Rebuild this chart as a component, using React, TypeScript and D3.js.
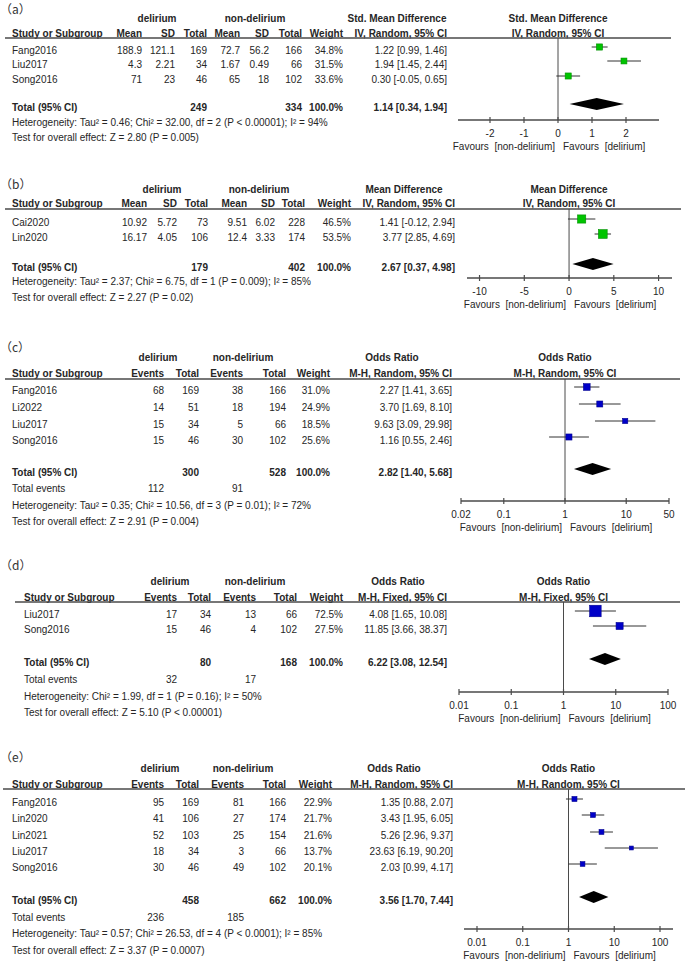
import * as d3 from "d3";
import React from "react";

const FONT = "'Liberation Sans', Arial, sans-serif";
const INK = "#262626";
const LINE = "#4a4a4a";

// (a) Std. mean difference
const aStudies = ["Fang2016", "Liu2017", "Song2016"];
const aMeanD = [188.9, 4.3, 71];
const aSdD = [121.1, 2.21, 23];
const aTotalD = [169, 34, 46];
const aMeanN = [72.7, 1.67, 65];
const aSdN = [56.2, 0.49, 18];
const aTotalN = [166, 66, 102];
const aWeight = [34.8, 31.5, 33.6];
const aEst = [1.22, 1.94, 0.3];
const aLow = [0.99, 1.45, -0.05];
const aHigh = [1.46, 2.44, 0.65];
const aPooled = [1.14, 0.34, 1.94];
const aSums = [249, 334];
const aTicks = [-2, -1, 0, 1, 2];

// (b) Mean difference
const bStudies = ["Cai2020", "Lin2020"];
const bMeanD = [10.92, 16.17];
const bSdD = [5.72, 4.05];
const bTotalD = [73, 106];
const bMeanN = [9.51, 12.4];
const bSdN = [6.02, 3.33];
const bTotalN = [228, 174];
const bWeight = [46.5, 53.5];
const bEst = [1.41, 3.77];
const bLow = [-0.12, 2.85];
const bHigh = [2.94, 4.69];
const bPooled = [2.67, 0.37, 4.98];
const bSums = [179, 402];
const bTicks = [-10, -5, 0, 5, 10];

// (c) Odds ratio, random
const cStudies = ["Fang2016", "Li2022", "Liu2017", "Song2016"];
const cEventsD = [68, 14, 15, 15];
const cTotalD = [169, 51, 34, 46];
const cEventsN = [38, 18, 5, 30];
const cTotalN = [166, 194, 66, 102];
const cWeight = [31.0, 24.9, 18.5, 25.6];
const cEst = [2.27, 3.7, 9.63, 1.16];
const cLow = [1.41, 1.69, 3.09, 0.55];
const cHigh = [3.65, 8.1, 29.98, 2.46];
const cPooled = [2.82, 1.4, 5.68];
const cSums = [300, 528];
const cEvents = [112, 91];
const cTicks = [0.02, 0.1, 1, 10, 50];

// (d) Odds ratio, fixed
const dStudies = ["Liu2017", "Song2016"];
const dEventsD = [17, 15];
const dTotalD = [34, 46];
const dEventsN = [13, 4];
const dTotalN = [66, 102];
const dWeight = [72.5, 27.5];
const dEst = [4.08, 11.85];
const dLow = [1.65, 3.66];
const dHigh = [10.08, 38.37];
const dPooled = [6.22, 3.08, 12.54];
const dSums = [80, 168];
const dEvents = [32, 17];
const dTicks = [0.01, 0.1, 1, 10, 100];

// (e) Odds ratio, random
const eStudies = ["Fang2016", "Lin2020", "Lin2021", "Liu2017", "Song2016"];
const eEventsD = [95, 41, 52, 18, 30];
const eTotalD = [169, 106, 103, 34, 46];
const eEventsN = [81, 27, 25, 3, 49];
const eTotalN = [166, 174, 154, 66, 102];
const eWeight = [22.9, 21.7, 21.6, 13.7, 20.1];
const eEst = [1.35, 3.43, 5.26, 23.63, 2.03];
const eLow = [0.88, 1.95, 2.96, 6.19, 0.99];
const eHigh = [2.07, 6.05, 9.37, 90.2, 4.17];
const ePooled = [3.56, 1.7, 7.44];
const eSums = [458, 662];
const eEvents = [236, 185];
const eTicks = [0.01, 0.1, 1, 10, 100];

const ci = (e: number, l: number, h: number) =>
  `${e.toFixed(2)} [${l.toFixed(2)}, ${h.toFixed(2)}]`;

type PanelProps = {
  label: string;
  studies: string[];
  cols: number[][];
  colX: number[];
  colHeads: string[];
  groupX: [number, number];
  sumCols: [number, number];
  sums: number[];
  events?: number[];
  weight: number[];
  weightX: number;
  est: number[];
  low: number[];
  high: number[];
  pooled: number[];
  ciX: number;
  ciHead1: string;
  ciHead1X: number;
  ciHead2: string;
  hetero: string;
  test: string;
  scale: any;
  nullValue: number;
  axisExtent: [number, number];
  ticks: number[];
  color: string;
  stroke: string;
  sizeK: number;
  leftX: number;
  lineX: [number, number];
  y: {
    label: number;
    h1: number;
    h2: number;
    line: number;
    rows: number[];
    total: number;
    events?: number;
    hetero: number;
    test: number;
    axis: number;
  };
};

const T = (props: any) => (
  <text
    fontFamily={FONT}
    fontSize={10}
    fill={INK}
    dy="0.35em"
    style={{ whiteSpace: "pre" }}
    {...props}
  />
);

const Panel = (p: PanelProps) => {
  const x = p.scale;
  const zero = x(p.nullValue);
  const size = d3.scaleSqrt().domain([0, 100]).range([0, p.sizeK * 10]);
  const y = p.y;
  const dY = y.total - 3;
  const [pe, pl, ph] = p.pooled;

  return (
    <g>
      <text
        x={0}
        y={y.label}
        dy="0.38em"
        fontFamily="'Noto Sans CJK SC', sans-serif"
        fontSize={12}
        fill="#333"
      >
        {`（${p.label}）`}
      </text>

      {/* header row 1 */}
      <T x={p.groupX[0]} y={y.h1} textAnchor="middle" fontWeight="bold">
        delirium
      </T>
      <T x={p.groupX[1]} y={y.h1} textAnchor="middle" fontWeight="bold">
        non-delirium
      </T>
      <T x={p.ciHead1X} y={y.h1} textAnchor="middle" fontWeight="bold">
        {p.ciHead1}
      </T>
      <T x={zero} y={y.h1} textAnchor="middle" fontWeight="bold">
        {p.ciHead1}
      </T>

      {/* header row 2 */}
      <T x={p.leftX} y={y.h2} fontWeight="bold">
        Study or Subgroup
      </T>
      {p.colHeads.map((h, i) => (
        <T key={i} x={p.colX[i]} y={y.h2} textAnchor="end" fontWeight="bold">
          {h}
        </T>
      ))}
      <T x={p.weightX} y={y.h2} textAnchor="end" fontWeight="bold">
        Weight
      </T>
      <T x={p.ciX} y={y.h2} textAnchor="end" fontWeight="bold">
        {p.ciHead2}
      </T>
      <T x={zero} y={y.h2} textAnchor="middle" fontWeight="bold">
        {p.ciHead2}
      </T>
      <line
        x1={p.lineX[0]}
        x2={p.lineX[1]}
        y1={y.line}
        y2={y.line}
        stroke={LINE}
        strokeWidth={1.3}
      />

      {/* study rows */}
      {p.studies.map((s, i) => (
        <g key={s}>
          <T x={p.leftX} y={y.rows[i]}>
            {s}
          </T>
          {p.cols.map((c, j) => (
            <T key={j} x={p.colX[j]} y={y.rows[i]} textAnchor="end">
              {String(c[i])}
            </T>
          ))}
          <T x={p.weightX} y={y.rows[i]} textAnchor="end">
            {`${p.weight[i].toFixed(1)}%`}
          </T>
          <T x={p.ciX} y={y.rows[i]} textAnchor="end">
            {ci(p.est[i], p.low[i], p.high[i])}
          </T>
        </g>
      ))}

      {/* totals */}
      <T x={p.leftX} y={y.total} fontWeight="bold">
        Total (95% CI)
      </T>
      <T x={p.colX[p.sumCols[0]]} y={y.total} textAnchor="end" fontWeight="bold">
        {String(p.sums[0])}
      </T>
      <T x={p.colX[p.sumCols[1]]} y={y.total} textAnchor="end" fontWeight="bold">
        {String(p.sums[1])}
      </T>
      <T x={p.weightX} y={y.total} textAnchor="end" fontWeight="bold">
        100.0%
      </T>
      <T x={p.ciX} y={y.total} textAnchor="end" fontWeight="bold">
        {ci(pe, pl, ph)}
      </T>
      {p.events && y.events !== undefined && (
        <g>
          <T x={p.leftX} y={y.events}>
            Total events
          </T>
          <T x={p.colX[0]} y={y.events} textAnchor="end">
            {String(p.events[0])}
          </T>
          <T x={p.colX[2]} y={y.events} textAnchor="end">
            {String(p.events[1])}
          </T>
        </g>
      )}
      <T x={p.leftX} y={y.hetero}>
        {p.hetero}
      </T>
      <T x={p.leftX} y={y.test}>
        {p.test}
      </T>

      {/* forest plot */}
      <line x1={zero} x2={zero} y1={y.line} y2={y.axis} stroke={LINE} strokeWidth={1} />
      {p.studies.map((s, i) => {
        const cy = y.rows[i] - 3;
        const w = size(p.weight[i]);
        return (
          <g key={s}>
            <line
              x1={x(p.low[i])}
              x2={x(p.high[i])}
              y1={cy}
              y2={cy}
              stroke="#333"
              strokeWidth={1}
            />
            <rect
              x={x(p.est[i]) - w / 2}
              y={cy - w / 2}
              width={w}
              height={w}
              fill={p.color}
              stroke={p.stroke}
              strokeWidth={0.6}
            />
          </g>
        );
      })}
      <path
        d={`M${x(pl)},${dY} L${x(pe)},${dY - 6} L${x(ph)},${dY} L${x(pe)},${dY + 6} Z`}
        fill="#000"
      />

      {/* axis */}
      <line
        x1={p.axisExtent[0]}
        x2={p.axisExtent[1]}
        y1={y.axis}
        y2={y.axis}
        stroke={LINE}
        strokeWidth={1.3}
      />
      {p.ticks.map((t) => (
        <g key={t}>
          <line
            x1={x(t)}
            x2={x(t)}
            y1={y.axis - 3}
            y2={y.axis + 3}
            stroke={LINE}
            strokeWidth={1.2}
          />
          <T x={x(t)} y={y.axis + 13} textAnchor="middle">
            {String(t)}
          </T>
        </g>
      ))}
      <T x={zero - 3} y={y.axis + 26.5} textAnchor="end">
        {"Favours  [non-delirium]"}
      </T>
      <T x={zero + 5} y={y.axis + 26.5}>
        {"Favours  [delirium]"}
      </T>
    </g>
  );
};

const contHeads = ["Mean", "SD", "Total", "Mean", "SD", "Total"];
const binHeads = ["Events", "Total", "Events", "Total"];

export default function App() {
  const green = "#00c400";
  const greenS = "#008f00";
  const blue = "#0000c8";
  const blueS = "#000090";

  return (
    <svg
      width={685}
      height={964}
      style={{ position: "absolute", left: 0, top: 0, background: "#fff" }}
    >
      <rect width={685} height={964} fill="#fff" />
      <Panel
        label="a"
        studies={aStudies}
        cols={[aMeanD, aSdD, aTotalD, aMeanN, aSdN, aTotalN]}
        colX={[142, 175, 207, 240, 269, 302]}
        colHeads={contHeads}
        groupX={[157, 255]}
        sumCols={[2, 5]}
        sums={aSums}
        weight={aWeight}
        weightX={343}
        est={aEst}
        low={aLow}
        high={aHigh}
        pooled={aPooled}
        ciX={447}
        ciHead1="Std. Mean Difference"
        ciHead1X={397}
        ciHead2="IV, Random, 95% CI"
        hetero="Heterogeneity: Tau² = 0.46; Chi² = 32.00, df = 2 (P < 0.00001); I² = 94%"
        test="Test for overall effect: Z = 2.80 (P = 0.005)"
        scale={d3.scaleLinear().domain([-3, 3]).range([456, 660])}
        nullValue={0}
        axisExtent={[458, 659]}
        ticks={aTicks}
        color={green}
        stroke={greenS}
        sizeK={1.05}
        leftX={12}
        lineX={[5, 671]}
        y={{ label: 9, h1: 18, h2: 33, line: 38, rows: [50, 64, 79], total: 107, hetero: 122, test: 137, axis: 120 }}
      />
      <Panel
        label="b"
        studies={bStudies}
        cols={[bMeanD, bSdD, bTotalD, bMeanN, bSdN, bTotalN]}
        colX={[147, 177, 208, 247, 275, 305]}
        colHeads={contHeads}
        groupX={[162, 259]}
        sumCols={[2, 5]}
        sums={bSums}
        weight={bWeight}
        weightX={351}
        est={bEst}
        low={bLow}
        high={bHigh}
        pooled={bPooled}
        ciX={455}
        ciHead1="Mean Difference"
        ciHead1X={404}
        ciHead2="IV, Random, 95% CI"
        hetero="Heterogeneity: Tau² = 2.37; Chi² = 6.75, df = 1 (P = 0.009); I² = 85%"
        test="Test for overall effect: Z = 2.27 (P = 0.02)"
        scale={d3.scaleLinear().domain([-11.4, 11.5]).range([467, 672])}
        nullValue={0}
        axisExtent={[467, 672]}
        ticks={bTicks}
        color={green}
        stroke={greenS}
        sizeK={1.2}
        leftX={12}
        lineX={[5, 681]}
        y={{ label: 184, h1: 189, h2: 203, line: 209, rows: [222, 237], total: 267, hetero: 281, test: 297, axis: 278 }}
      />
      <Panel
        label="c"
        studies={cStudies}
        cols={[cEventsD, cTotalD, cEventsN, cTotalN]}
        colX={[164, 199, 243, 286]}
        colHeads={binHeads}
        groupX={[158, 243]}
        sumCols={[1, 3]}
        sums={cSums}
        events={cEvents}
        weight={cWeight}
        weightX={330}
        est={cEst}
        low={cLow}
        high={cHigh}
        pooled={cPooled}
        ciX={452}
        ciHead1="Odds Ratio"
        ciHead1X={392}
        ciHead2="M-H, Random, 95% CI"
        hetero="Heterogeneity: Tau² = 0.35; Chi² = 10.56, df = 3 (P = 0.01); I² = 72%"
        test="Test for overall effect: Z = 2.91 (P = 0.004)"
        scale={d3.scaleLog().domain([0.02, 50]).range([461, 669])}
        nullValue={1}
        axisExtent={[461, 669]}
        ticks={cTicks}
        color={blue}
        stroke={blueS}
        sizeK={1.2}
        leftX={12}
        lineX={[5, 680]}
        y={{ label: 347, h1: 357, h2: 373, line: 379, rows: [390, 407, 424, 440], total: 472, events: 488, hetero: 505, test: 521, axis: 501 }}
      />
      <Panel
        label="d"
        studies={dStudies}
        cols={[dEventsD, dTotalD, dEventsN, dTotalN]}
        colX={[177, 211, 256, 297]}
        colHeads={binHeads}
        groupX={[170, 255]}
        sumCols={[1, 3]}
        sums={dSums}
        events={dEvents}
        weight={dWeight}
        weightX={343}
        est={dEst}
        low={dLow}
        high={dHigh}
        pooled={dPooled}
        ciX={447}
        ciHead1="Odds Ratio"
        ciHead1X={398}
        ciHead2="M-H, Fixed, 95% CI"
        hetero="Heterogeneity: Chi² = 1.99, df = 1 (P = 0.16); I² = 50%"
        test="Test for overall effect: Z = 5.10 (P < 0.00001)"
        scale={d3.scaleLog().domain([0.01, 100]).range([459, 668])}
        nullValue={1}
        axisExtent={[459, 668]}
        ticks={dTicks}
        color={blue}
        stroke={blueS}
        sizeK={1.35}
        leftX={24}
        lineX={[15, 680]}
        y={{ label: 565, h1: 581, h2: 597, line: 602, rows: [614, 629], total: 662, events: 679, hetero: 696, test: 712, axis: 692 }}
      />
      <Panel
        label="e"
        studies={eStudies}
        cols={[eEventsD, eTotalD, eEventsN, eTotalN]}
        colX={[164, 199, 244, 286]}
        colHeads={binHeads}
        groupX={[160, 243]}
        sumCols={[1, 3]}
        sums={eSums}
        events={eEvents}
        weight={eWeight}
        weightX={332}
        est={eEst}
        low={eLow}
        high={eHigh}
        pooled={ePooled}
        ciX={453}
        ciHead1="Odds Ratio"
        ciHead1X={394}
        ciHead2="M-H, Random, 95% CI"
        hetero="Heterogeneity: Tau² = 0.57; Chi² = 26.53, df = 4 (P < 0.0001); I² = 85%"
        test="Test for overall effect: Z = 3.37 (P = 0.0007)"
        scale={d3.scaleLog().domain([0.01, 100]).range([477, 660])}
        nullValue={1}
        axisExtent={[464, 673]}
        ticks={eTicks}
        color={blue}
        stroke={blueS}
        sizeK={1.05}
        leftX={12}
        lineX={[3, 685]}
        y={{ label: 757, h1: 768, h2: 784, line: 789, rows: [802, 818, 835, 851, 867], total: 900, events: 917, hetero: 933, test: 950, axis: 929 }}
      />
    </svg>
  );
}
